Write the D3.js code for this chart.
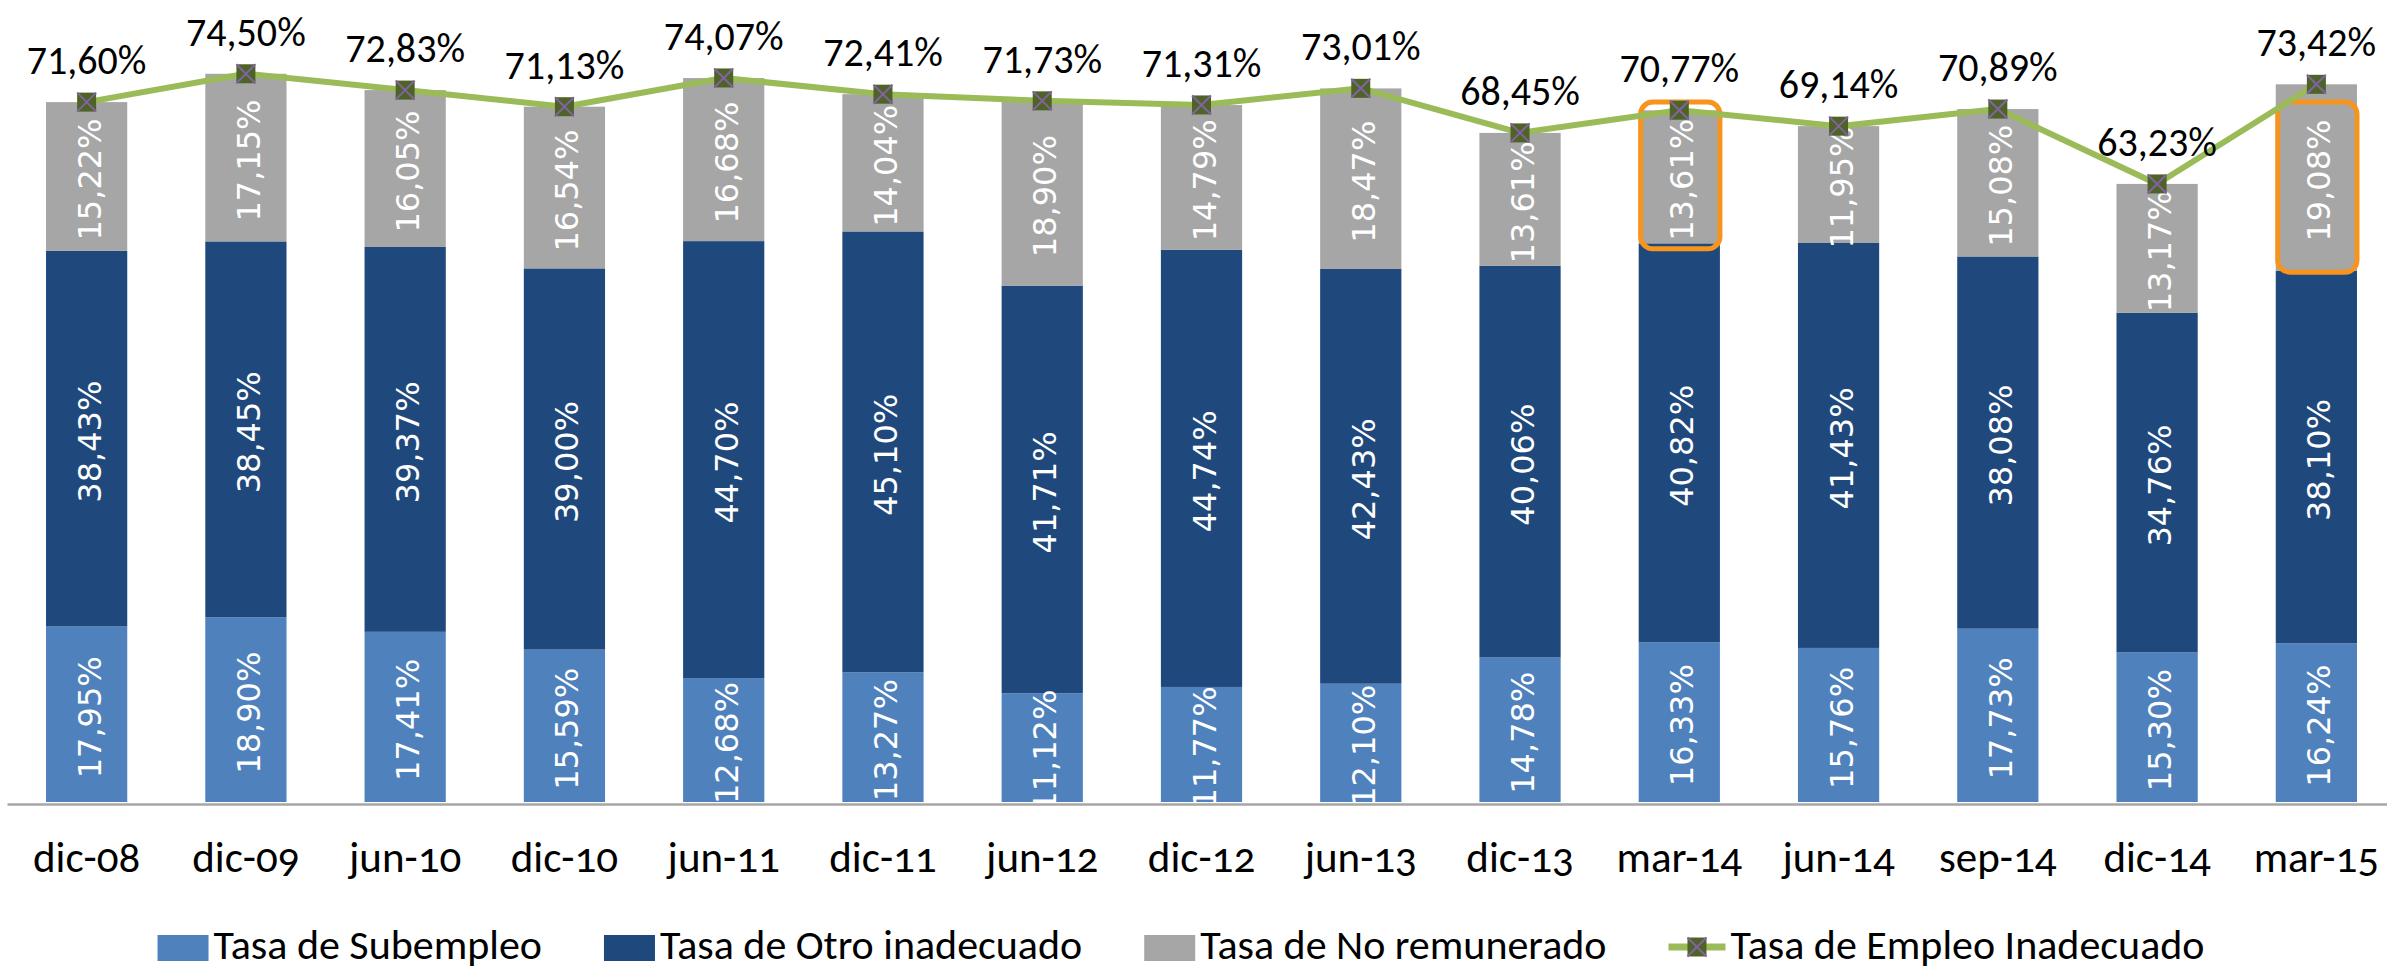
<!DOCTYPE html>
<html>
<head>
<meta charset="utf-8">
<script src="https://cdn.jsdelivr.net/npm/d3@7"></script>
<style>
  html, body { margin: 0; padding: 0; background: #ffffff; }
  svg { display: block; }
  .lbl { font-family: Carlito, Calibri, Lato, sans-serif; fill: #000; }
  .inner { font-family: "DejaVu Sans", Verdana, sans-serif; fill: #fff; }
  .xaxis text { font-family: Carlito, Calibri, Lato, sans-serif; font-variant-numeric: oldstyle-nums; fill: #000; }
</style>
</head>
<body>
<svg id="chart" width="2387" height="973"></svg>
<script>
const categories = ["dic-08","dic-09","jun-10","dic-10","jun-11","dic-11","jun-12","dic-12","jun-13","dic-13","mar-14","jun-14","sep-14","dic-14","mar-15"];
const subempleo  = [17.95,18.90,17.41,15.59,12.68,13.27,11.12,11.77,12.10,14.78,16.33,15.76,17.73,15.30,16.24];
const otroInadecuado = [38.43,38.45,39.37,39.00,44.70,45.10,41.71,44.74,42.43,40.06,40.82,41.43,38.08,34.76,38.10];
const noRemunerado = [15.22,17.15,16.05,16.54,16.68,14.04,18.90,14.79,18.47,13.61,13.61,11.95,15.08,13.17,19.08];
const empleoInadecuado = [71.60,74.50,72.83,71.13,74.07,72.41,71.73,71.31,73.01,68.45,70.77,69.14,70.89,63.23,73.42];
const seriesNames = ["Tasa de Subempleo","Tasa de Otro inadecuado","Tasa de No remunerado","Tasa de Empleo Inadecuado"];
const seriesColors = ["#4F81BD","#1F497D","#A6A6A6","#9BBB59"];
// highlighted boxes (annotation): category, lower and upper value
const highlightCats = ["mar-14","mar-15"];
const highlightLow  = [56.6, 54.2];
const highlightHigh = [71.6, 71.6];

const svg = d3.select("#chart");
const x = d3.scaleBand().domain(categories).range([7, 2396]).paddingInner(0.49).paddingOuter(0.245);
const y = d3.scaleLinear().domain([0, 80]).range([802, 20]);
const loc = d3.formatLocale({decimal: ",", thousands: ".", grouping: [3], currency: ["", "€"]});
const fmt = v => loc.format(".2f")(v) + "%";

const rows = categories.map((c, i) => ({cat: c, s0: subempleo[i], s1: otroInadecuado[i], s2: noRemunerado[i], tot: empleoInadecuado[i]}));
const stack = d3.stack().keys(["s0","s1","s2"])(rows);

// bars
const g = svg.append("g");
stack.forEach((layer, li) => {
  g.selectAll(null).data(layer).enter().append("rect")
    .attr("x", d => x(d.data.cat))
    .attr("width", x.bandwidth())
    .attr("y", d => y(d[1]))
    .attr("height", d => y(d[0]) - y(d[1]))
    .attr("fill", seriesColors[li]);
});

// x axis
const xAxis = svg.append("g").attr("class", "xaxis")
  .attr("transform", "translate(0,804)")
  .call(d3.axisBottom(x).tickSize(0).tickPadding(40));
xAxis.select(".domain").attr("stroke", "#A6A6A6").attr("stroke-width", 2.5);
xAxis.selectAll("text").attr("font-size", 43).attr("dy", "0").attr("y", 68);

// inner rotated labels
stack.forEach((layer, li) => {
  g.selectAll(null).data(layer).enter().append("text")
    .attr("class", "inner")
    .attr("font-size", 32)
    .attr("text-anchor", "middle")
    .attr("transform", d => `translate(${x(d.data.cat) + x.bandwidth()/2},${(y(d[0]) + y(d[1]))/2 + 3}) rotate(-90)`)
    .attr("dy", 14)
    .text(d => fmt(d[1] - d[0]));
});

// highlight boxes
highlightCats.forEach((c, i) => {
  svg.append("rect")
    .attr("x", x(c) + 2)
    .attr("width", x.bandwidth() - 2)
    .attr("y", y(highlightHigh[i]))
    .attr("height", y(highlightLow[i]) - y(highlightHigh[i]))
    .attr("rx", 12).attr("ry", 12)
    .attr("fill", "none")
    .attr("stroke", "#F7941D")
    .attr("stroke-width", 5);
});

// line
const cx = c => x(c) + x.bandwidth()/2;
const line = d3.line().x((d, i) => cx(categories[i])).y(d => y(d));
svg.append("path").datum(empleoInadecuado)
  .attr("d", line).attr("fill", "none")
  .attr("stroke", seriesColors[3]).attr("stroke-width", 6).attr("stroke-linejoin", "round");

function marker(sel, px, py) {
  const s = 19, h = s/2;
  sel.append("rect").attr("x", px - h).attr("y", py - h).attr("width", s).attr("height", s).attr("fill", "#4F6228");
  sel.append("path").attr("d", `M${px-h},${py-h}L${px+h},${py+h}M${px+h},${py-h}L${px-h},${py+h}`)
    .attr("stroke", "#8064A2").attr("stroke-width", 2);
}
const mg = svg.append("g");
empleoInadecuado.forEach((v, i) => marker(mg, cx(categories[i]), y(v)));

// total labels
svg.selectAll(null).data(empleoInadecuado).enter().append("text")
  .attr("class", "lbl")
  .attr("font-size", 40)
  .attr("text-anchor", "middle")
  .attr("x", (d, i) => cx(categories[i]))
  .attr("y", d => y(d) - 28)
  .text(d => fmt(d));

// legend
const lg = svg.append("g");
const legendBase = 959;
let items = [];
seriesNames.forEach((n, i) => {
  const it = lg.append("g");
  if (i < 3) {
    it.append("rect").attr("x", 0).attr("y", legendBase - 24).attr("width", 51).attr("height", 26).attr("fill", seriesColors[i]);
  } else {
    it.append("line").attr("x1", 0).attr("x2", 57).attr("y1", legendBase - 12).attr("y2", legendBase - 12)
      .attr("stroke", seriesColors[3]).attr("stroke-width", 7);
    marker(it, 28.5, legendBase - 12);
  }
  const t = it.append("text").attr("class", "lbl").attr("font-size", 42)
    .attr("x", i < 3 ? 56 : 62).attr("y", legendBase).text(n);
  items.push({g: it, w: (i < 3 ? 56 : 62) + t.node().getComputedTextLength()});
});
const gap = 62;
const totalW = d3.sum(items, d => d.w) + gap * (items.length - 1);
let cur = 1181 - totalW / 2;
items.forEach(it => { it.g.attr("transform", `translate(${cur},0)`); cur += it.w + gap; });
</script>
</body>
</html>
